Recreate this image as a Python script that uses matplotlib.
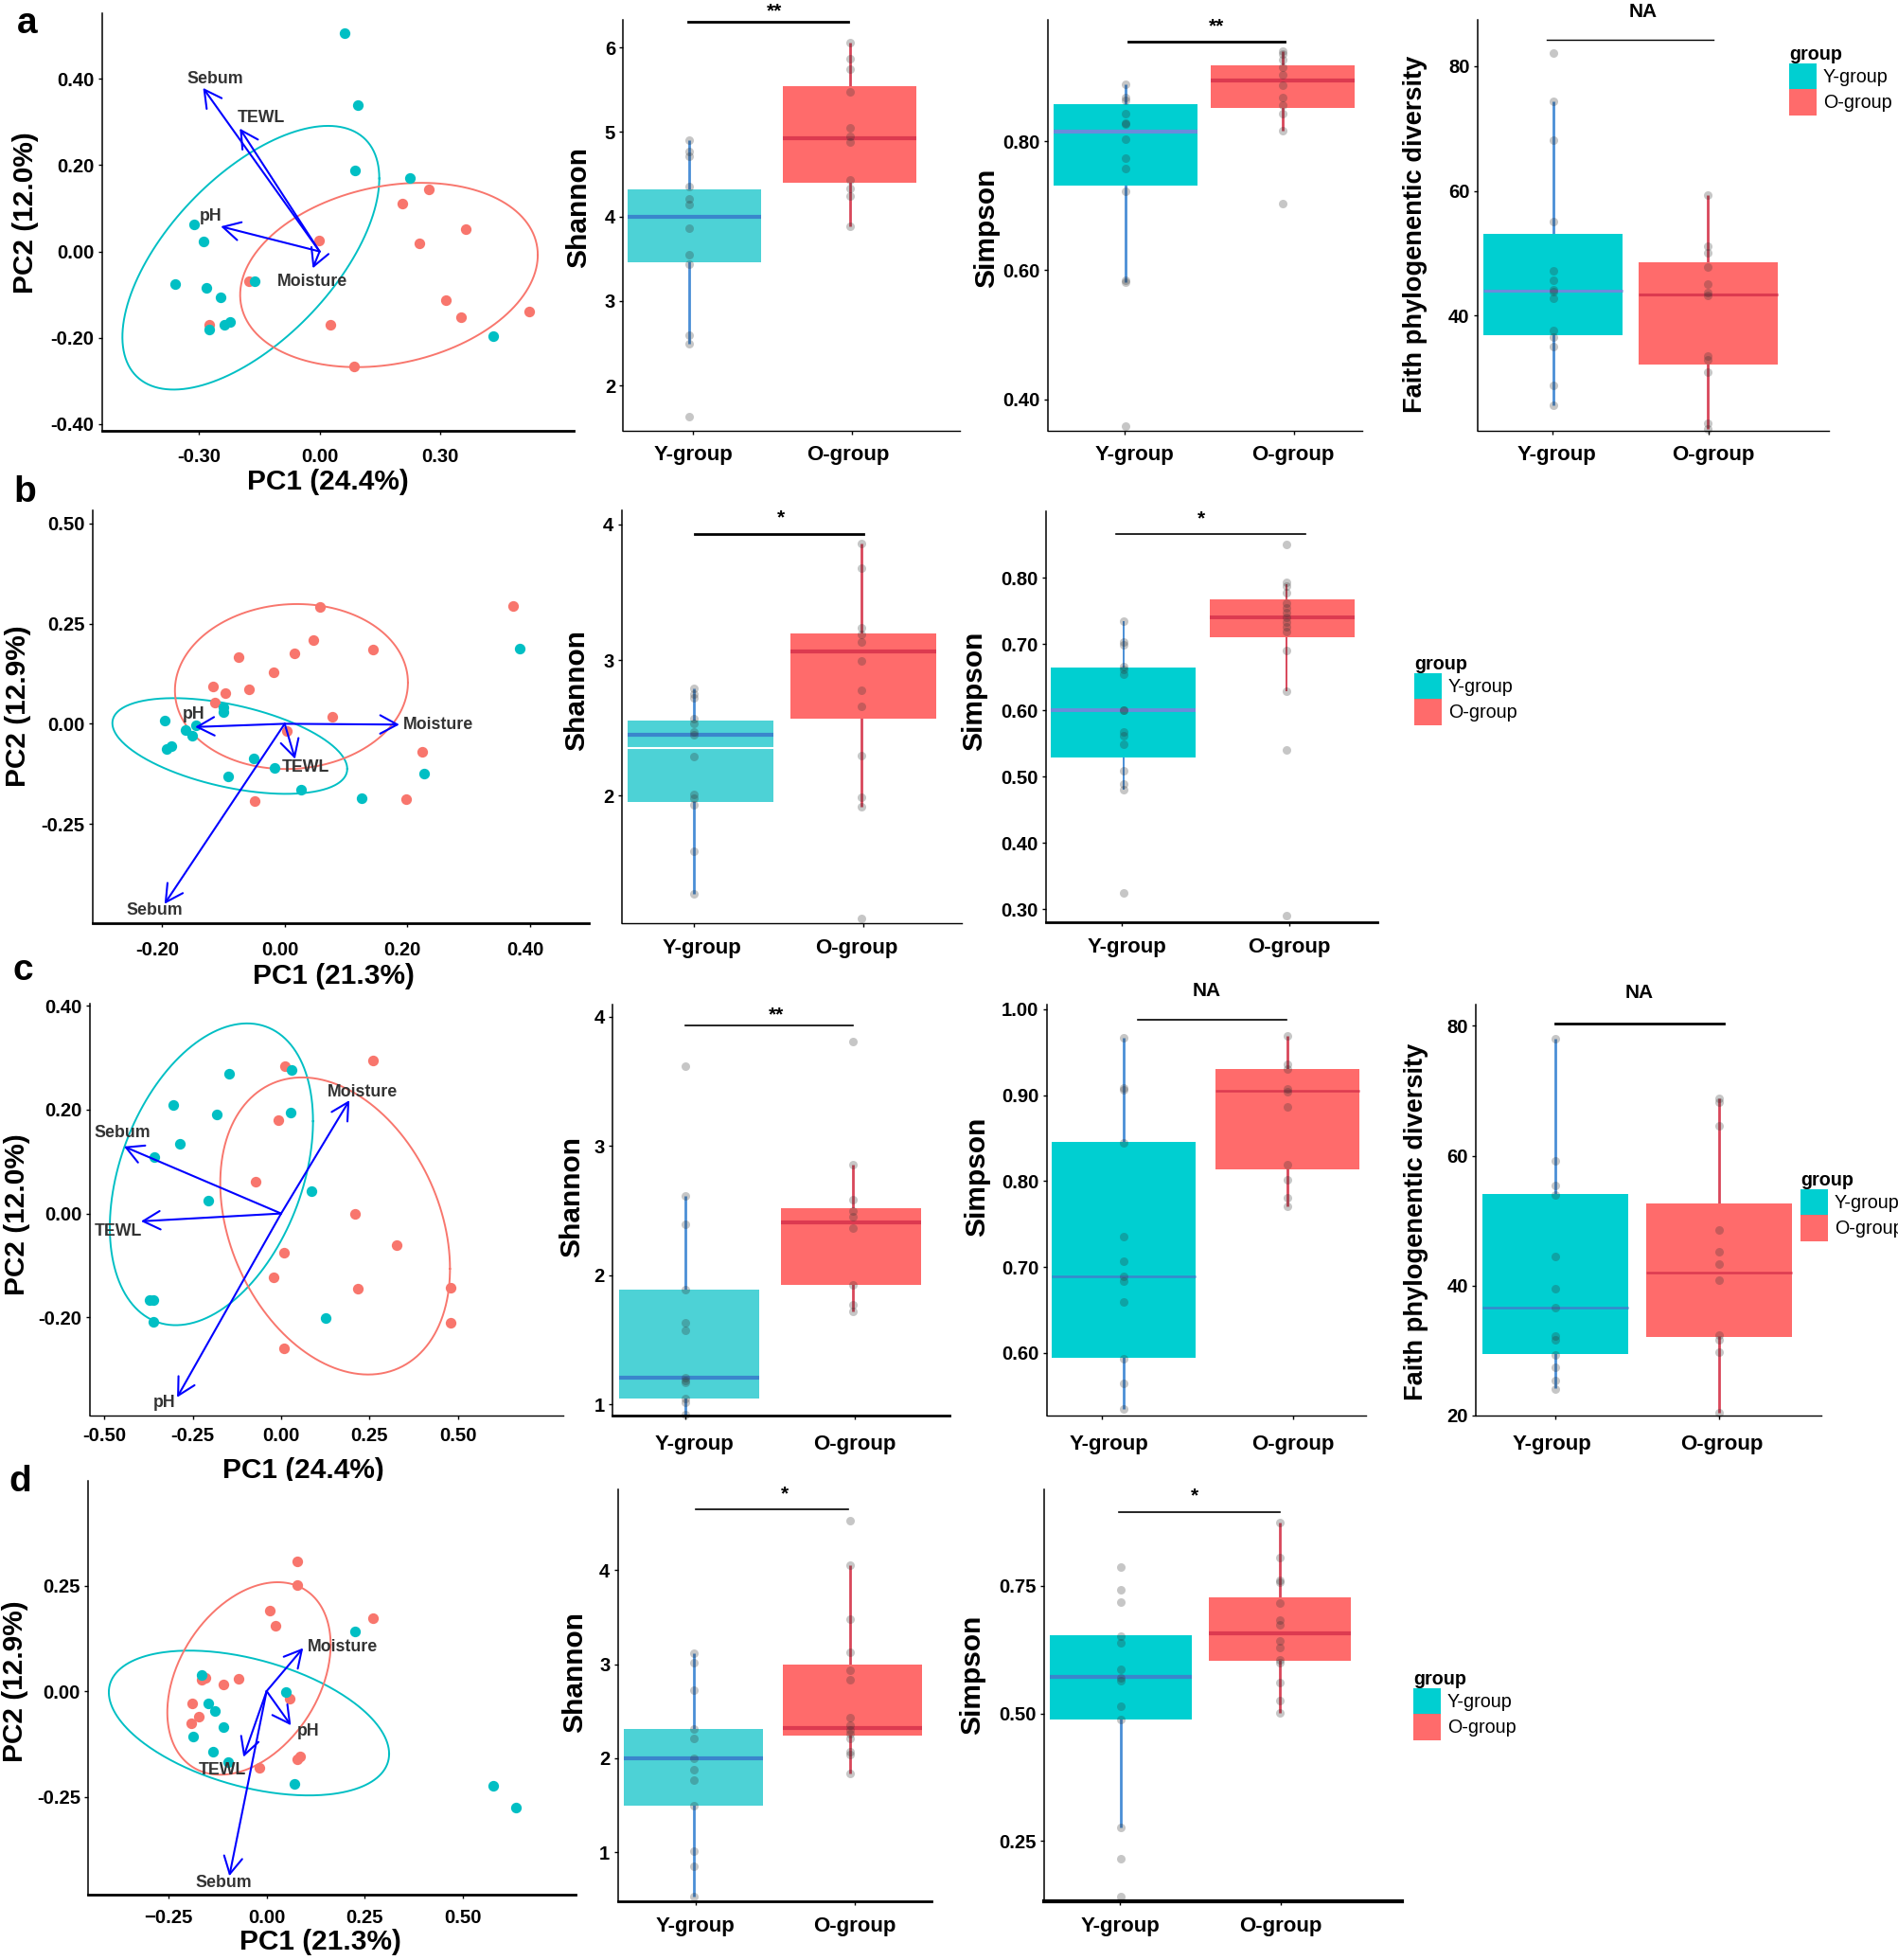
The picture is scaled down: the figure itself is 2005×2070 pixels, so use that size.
import matplotlib
matplotlib.use("Agg")
import numpy as np
import matplotlib.pyplot as plt
from matplotlib.patches import Patch
from matplotlib.transforms import ScaledTranslation

plt.rcParams['font.family'] = ['Liberation Sans', 'DejaVu Sans']

W, H = 2006, 2070
GROUPS = ['Y-group', 'O-group']

# ---------- PCA data ----------
A_Y_X = [.062,.095,.088,.224,-.312,-.288,-.358,-.280,-.245,-.161,-.273,-.236,-.221,.430]
A_Y_Y = [.507,.340,.187,.170,.063,.024,-.076,-.085,-.107,-.070,-.181,-.170,-.163,-.197]
A_O_X = [.270,.206,.362,-.002,.248,-.174,.312,.520,.350,-.273,.026,.085]
A_O_Y = [.143,.110,.051,.026,.018,-.068,-.113,-.139,-.153,-.169,-.170,-.267]
B_Y_X = [.383,-.100,-.100,-.196,-.144,-.161,-.151,-.185,-.193,-.050,-.017,-.092,.027,.125,.228]
B_Y_Y = [.187,.040,.030,.008,-.004,-.016,-.029,-.056,-.062,-.086,-.111,-.131,-.165,-.185,-.124]
B_O_X = [.057,.372,.047,.144,.016,-.076,-.018,-.117,-.097,-.058,-.114,.078,.003,.225,-.049,.198]
B_O_Y = [.291,.293,.209,.185,.176,.167,.129,.094,.077,.086,.054,.018,-.019,-.069,-.194,-.188]
C_Y_X = [.029,-.148,-.306,-.181,.028,-.286,-.358,.086,-.207,-.372,-.361,-.361,.127]
C_Y_Y = [.276,.269,.209,.191,.194,.135,.109,.043,.024,-.167,-.166,-.209,-.201]
C_O_X = [.260,.010,-.009,-.071,.208,.325,.007,-.022,.217,.480,.480,.007]
C_O_Y = [.295,.283,.180,.062,-.001,-.060,-.075,-.122,-.144,-.142,-.210,-.259]
D_Y_X = [.225,-.166,.050,-.149,-.132,-.109,-.188,-.137,-.099,.070,.576,.634]
D_Y_Y = [.141,.039,-.003,-.030,-.046,-.086,-.107,-.143,-.168,-.219,-.225,-.276]
D_O_X = [.079,.078,.009,.270,.022,-.071,-.157,-.166,-.110,.059,-.189,-.174,-.191,.085,.078,-.019]
D_O_Y = [.308,.251,.190,.173,.154,.030,.031,.028,.016,-.017,-.029,-.061,-.077,-.155,-.161,-.182]

# ellipses: xmin, xmax, ymin, ymax, x at ymax
A_ELL = [(-.489,.148,-.320,.291,.021), (-.197,.541,-.268,.159,.252)]
B_ELL = [(-.281,.102,-.175,.064,-.181), (-.179,.201,-.113,.299,.020)]
C_ELL = [(-.484,.090,-.215,.366,-.096), (-.172,.477,-.310,.262,.059)]
D_ELL = [(-.402,.312,-.247,.096,-.197), (-.253,.163,-.198,.258,.028)]

# loadings: name, end x, end y, label x, label y
A_LOAD = [('Sebum',-.289,.379,-.258,.399),('TEWL',-.198,.285,-.145,.309),('pH',-.245,.058,-.271,.081),('Moisture',-.017,-.039,-.017,-.069)]
B_LOAD = [('Sebum',-.196,-.450,-.213,-.466),('TEWL',.017,-.088,.034,-.110),('pH',-.146,-.008,-.148,.024),('Moisture',.187,-.002,.250,-.003)]
C_LOAD = [('Sebum',-.444,.129,-.449,.155),('TEWL',-.396,-.015,-.461,-.035),('pH',-.294,-.354,-.329,-.364),('Moisture',.193,.218,.231,.234)]
D_LOAD = [('Sebum',-.095,-.438,-.109,-.454),('TEWL',-.059,-.156,-.112,-.187),('pH',.062,-.081,.106,-.096),('Moisture',.093,.102,.193,.104)]

# ---------- alpha diversity data ----------
# stats: q1, median, q3, whisker low, whisker high
A_SHA_Y = [4.906,4.763,4.717,4.358,4.206,4.138,3.858,3.544,3.430,2.598,2.492,1.629]
A_SHA_O = [6.057,5.868,5.739,5.478,5.046,4.952,4.884,4.433,4.327,4.244,3.885]
A_SHA_STATS = [(3.457,3.998,4.32,2.49,4.906),(4.399,4.925,5.538,3.885,6.057)]
A_SIM_Y = [.888,.868,.863,.842,.828,.826,.803,.774,.758,.722,.584,.581,.359]
A_SIM_O = [.940,.935,.927,.914,.903,.886,.868,.856,.843,.817,.703]
A_SIM_STATS = [(.731,.815,.858,.582,.888),(.852,.894,.918,.817,.940)]
A_FAI_Y = [82.1,74.3,68.2,55.1,47.2,45.7,44.2,43.8,42.8,37.6,36.5,35.1,28.8,25.6]
A_FAI_O = [59.3,51.1,50,47.8,45,43.7,43.2,33.6,32.9,30.9,22.8,21.9]
A_FAI_STATS = [(36.8,44.0,53.1,25.6,74.3),(32.2,43.4,48.5,21.9,59.3)]

B_SHA_Y = [2.794,2.747,2.719,2.570,2.530,2.468,2.447,2.284,2.009,1.979,1.931,1.589,1.277]
B_SHA_O = [3.863,3.676,3.239,3.191,3.130,2.993,2.778,2.660,2.291,1.986,1.915,1.095]
B_SHA_STATS = [(1.955,2.447,2.551,1.277,2.794),(2.565,3.061,3.196,1.915,3.863)]
B_SIM_Y = [.735,.703,.699,.666,.662,.655,.601,.600,.568,.562,.549,.509,.489,.481,.324]
B_SIM_O = [.851,.793,.788,.778,.762,.755,.748,.741,.733,.726,.719,.690,.629,.541,.290]
B_SIM_STATS = [(.529,.600,.665,.481,.735),(.711,.740,.768,.629,.791)]

C_SHA_Y = [3.621,2.612,2.394,1.888,1.632,1.575,1.203,1.186,1.166,1.045,1.012,.918]
C_SHA_O = [3.809,2.852,2.587,2.493,2.451,2.364,1.925,1.774,1.719]
C_SHA_STATS = [(1.045,1.203,1.888,.913,2.612),(1.925,2.408,2.520,1.719,2.852)]
C_SIM_Y = [.967,.909,.906,.844,.735,.707,.689,.684,.659,.593,.565,.535]
C_SIM_O = [.969,.936,.930,.907,.904,.886,.819,.801,.781,.771]
C_SIM_STATS = [(.594,.689,.846,.535,.967),(.814,.905,.930,.771,.969)]
C_FAI_Y = [78.0,59.2,55.4,54.0,44.5,39.5,36.6,32.3,31.7,29.4,27.5,25.4,24.1]
C_FAI_O = [68.9,68.3,64.6,48.6,45.2,43.3,40.8,32.4,31.7,29.7,20.5]
C_FAI_STATS = [(29.5,36.6,54.1,24.2,78.0),(32.1,42.0,52.6,20.5,68.9)]

D_SHA_Y = [3.115,3.019,2.724,2.316,2.214,2.0,1.881,1.766,1.497,1.015,.855,.532]
D_SHA_O = [4.521,4.056,3.478,3.128,2.938,2.833,2.435,2.350,2.299,2.265,2.214,2.068,2.044,1.840]
D_SHA_STATS = [(1.500,2.0,2.313,.532,3.115),(2.245,2.323,2.992,1.840,4.056)]
D_SIM_Y = [.787,.742,.719,.652,.638,.587,.570,.565,.514,.488,.276,.215,.141]
D_SIM_O = [.874,.806,.761,.757,.716,.683,.674,.642,.629,.605,.599,.560,.526,.501]
D_SIM_STATS = [(.488,.572,.654,.276,.654),(.604,.657,.728,.501,.874)]

# ---------- style ----------
TEAL, RED = '#00BFC4', '#F8766D'
BOX_TEAL, BOX_TEAL_L, BOX_RED = '#00CFD1', '#4DD2D6', '#FF6B6B'
WH_B, WH_R = '#4A8ED6', '#D8465A'
MED_B, MED_B2, MED_R = '#3A86CC', '#6A8CDB', '#DC3A50'
PTS = '#333333'
FS_TICK, FS_CAT, FS_LAB = 14.6, 16, 21.5

fig = plt.figure(figsize=(W/100, H/100), dpi=100, facecolor='white')


def make_ax(l, r, t, b, bottom_lw=1.0):
    ax = fig.add_axes([l/W, 1-b/H, (r-l)/W, (b-t)/H])
    for s in ['top', 'right']:
        ax.spines[s].set_visible(False)
    ax.spines['left'].set_linewidth(1.1)
    ax.spines['bottom'].set_linewidth(bottom_lw)
    ax.spines['left'].set_zorder(6)
    ax.spines['bottom'].set_zorder(6)
    return ax


def place_labels(ax, box, ylabel, ypos, xlabel=None, xpos=None, ylab_fs=FS_LAB):
    l, r, t, b = box
    ax.set_ylabel(ylabel, fontsize=ylab_fs, fontweight='bold')
    ax.yaxis.set_label_coords((ypos[0]-l)/(r-l), (b-ypos[1])/(b-t))
    if xlabel:
        ax.set_xlabel(xlabel, fontsize=FS_LAB, fontweight='bold')
        ax.xaxis.set_label_coords((xpos[0]-l)/(r-l), (b-xpos[1])/(b-t))
        ax.xaxis.label.set_va('center')
    ax.yaxis.label.set_va('center')


def ellipse(ax, e, color):
    xmin, xmax, ymin, ymax, xat = e
    cx, cy = (xmin+xmax)/2, (ymin+ymax)/2
    rx, ry = (xmax-xmin)/2, (ymax-ymin)/2
    d = np.arccos(np.clip((xat-cx)/rx, -1, 1))
    t = np.linspace(0, 2*np.pi, 300)
    ax.plot(cx+rx*np.cos(t), cy+ry*np.cos(t-d), color=color, lw=1.4, zorder=2)


def shift_labels(fig_labels, dx):
    for tl in fig_labels:
        tl.set_transform(tl.get_transform()+ScaledTranslation(dx/100, 0, fig.dpi_scale_trans))


def pca(box, xlim, ylim, xticks, xtl, yticks, ytl, yx, yy, ox, oy, ells, loads,
        xlabel, xpos, ylabel, ypos, xpad, bottom_lw=1.0, labdx=0):
    ax = make_ax(*box, bottom_lw=bottom_lw)
    ax.set_xlim(*xlim); ax.set_ylim(*ylim)
    ax.scatter(ox, oy, s=66, color=RED, lw=0, zorder=3)
    ax.scatter(yx, yy, s=66, color=TEAL, lw=0, zorder=3)
    ellipse(ax, ells[0], TEAL); ellipse(ax, ells[1], RED)
    for name, ex, ey, lx, ly in loads:
        ax.annotate('', xy=(ex, ey), xytext=(0, 0), zorder=4,
                    arrowprops=dict(arrowstyle='->,head_length=13,head_width=7', mutation_scale=1,
                                    color='#0000FF', lw=1.5, shrinkA=0, shrinkB=0))
        ax.text(lx, ly, name, fontsize=12.8, fontweight='bold', color='#333333',
                ha='center', va='center', zorder=5)
    ax.set_xticks(xticks); ax.set_xticklabels(xtl)
    ax.set_yticks(yticks); ax.set_yticklabels(ytl)
    ax.tick_params(axis='x', length=3, width=1, labelsize=FS_TICK, pad=xpad*.72)
    ax.tick_params(axis='y', length=3, width=1, labelsize=FS_TICK, pad=3)
    for t in ax.get_xticklabels()+ax.get_yticklabels():
        t.set_fontweight('bold')
    shift_labels(ax.get_xticklabels(), labdx)
    place_labels(ax, box, ylabel, ypos, xlabel, xpos)
    return ax


def boxpanel(box, ylim, yticks, ytl, stats, ydata, odata, cx, hw, ptx, tickx, ylabel, ypos,
             bar, sig, sigpos, xpad, teal=BOX_TEAL, med=MED_B, medlw=3.0, whlw=2.0,
             bottom_lw=1.0, labdx=(0, 0), white=None, ylab_fs=FS_LAB):
    ax = make_ax(*box, bottom_lw=bottom_lw)
    l, r, t, b = box
    u = cx[1]-cx[0]
    tox = lambda p: 1+(p-cx[0])/u
    ax.set_xlim(tox(l), tox(r)); ax.set_ylim(*ylim)
    colors = [teal, BOX_RED]
    wh = [WH_B, WH_R]
    meds = [med, MED_R]
    for i, (st, vals) in enumerate(zip(stats, [ydata, odata])):
        q1, m, q3, lo, hi = st
        x0 = tox(cx[i])
        px = tox(ptx[i])
        ax.vlines(px, lo, hi, color=wh[i], lw=whlw, zorder=1)
        ax.bar(x0, q3-q1, bottom=q1, width=2*hw/u, color=colors[i], lw=0, zorder=2)
        ax.hlines(m, x0-hw/u, x0+hw/u, color=meds[i], lw=medlw, zorder=3)
        ax.scatter([px]*len(vals), vals, s=42, color=PTS, alpha=.28, lw=0, zorder=4, clip_on=False)
    if white is not None:
        ax.hlines(white, tox(cx[0])-hw/u, tox(cx[0])+hw/u, color='white', lw=1.5, zorder=3)
    ax.set_xticks([tox(tickx[0]), tox(tickx[1])]); ax.set_xticklabels(GROUPS)
    ax.set_yticks(yticks); ax.set_yticklabels(ytl)
    ax.tick_params(axis='x', length=3, width=1, labelsize=FS_CAT, pad=xpad*.72)
    ax.tick_params(axis='y', length=3, width=1, labelsize=FS_TICK, pad=3)
    for tl, dx in zip(ax.get_xticklabels(), labdx):
        tl.set_fontweight('bold')
        tl.set_transform(tl.get_transform()+ScaledTranslation(dx/100, 0, fig.dpi_scale_trans))
    for tl in ax.get_yticklabels():
        tl.set_fontweight('bold')
    place_labels(ax, box, ylabel, ypos, ylab_fs=ylab_fs)
    fig.add_artist(plt.Line2D([bar[0]/W, bar[1]/W], [1-bar[2]/H]*2, color='black', lw=bar[3]))
    sy = sigpos[1] + (5 if sig.startswith('*') else 0)
    fig.text(sigpos[0]/W, 1-sy/H, sig, fontsize=15, fontweight='bold', ha='center', va='center')
    return ax


def legend(x, y):
    handles = [Patch(facecolor=BOX_TEAL, lw=0, label=GROUPS[0]), Patch(facecolor=BOX_RED, lw=0, label=GROUPS[1])]
    leg = fig.legend(handles=handles, title='group', loc='upper left', bbox_to_anchor=(x/W, 1-y/H),
                     frameon=False, fontsize=14.2, handlelength=1.48, handleheight=1.76, labelspacing=0,
                     handletextpad=.35, borderaxespad=0, borderpad=0, alignment='left')
    leg.get_title().set_fontweight('bold')
    leg.get_title().set_fontsize(14.2)


FS_FAITH = 19.6

# ---------- row a ----------
pca((108,606,14,455), (-.539,.630), (-.4156,.552), [-.3,0,.3], ['-0.30','0.00','0.30'],
    [.4,.2,0,-.2,-.4], ['0.40','0.20','0.00','-0.20','-0.40'],
    A_Y_X, A_Y_Y, A_O_X, A_O_Y, A_ELL, A_LOAD, 'PC1 (24.4%)', (346,509), 'PC2 (12.0%)', (27,225), 14, 2.0)
boxpanel((658.5,1014,21,455), (1.463,6.325), [2,3,4,5,6], ['2','3','4','5','6'], A_SHA_STATS, A_SHA_Y, A_SHA_O,
         (733.2,897.6), 70.6, (728,897.6), (732,900), 'Shannon', (611,219), (727,895.6,23,2.0), '**', (818,7), 10.5,
         teal=BOX_TEAL_L, medlw=3.0, labdx=(0,-4))
boxpanel((1106.5,1439.5,21,455), (.351,.988), [.4,.6,.8], ['0.40','0.60','0.80'], A_SIM_STATS, A_SIM_Y, A_SIM_O,
         (1189,1355), 76, (1188.6,1355.4), (1188,1367), 'Simpson', (1042,241), (1192,1357,44,2.0), '**', (1285.5,23), 10.5,
         med=MED_B2, labdx=(10,-1))
boxpanel((1560.8,1931.6,21,455), (21.54,87.4), [40,60,80], ['40','60','80'], A_FAI_STATS, A_FAI_Y, A_FAI_O,
         (1640.5,1804.5), 73.5, (1641,1804), (1640,1804.6), 'Faith phylogenentic diversity', (1495,247), (1634,1810,42,1.0), 'NA', (1736,12), 10.5,
         med=MED_B2, medlw=2.2, labdx=(4,5), ylab_fs=FS_FAITH)
legend(1890, 48)

# ---------- row b ----------
pca((98,622,539,975), (-.313,.496), (-.498,.533), [-.2,0,.2,.4], ['-0.20','0.00','0.20','0.40'],
    [.5,.25,0,-.25], ['0.50','0.25','0.00','-0.25'],
    B_Y_X, B_Y_Y, B_O_X, B_O_Y, B_ELL, B_LOAD, 'PC1 (21.3%)', (352,1031), 'PC2 (12.9%)', (19,746), 15, 2.0, labdx=-5)
boxpanel((656.6,1016,539.4,975), (1.057,4.102), [2,3,4], ['2','3','4'], B_SHA_STATS, B_SHA_Y, B_SHA_O,
         (740,912.5), 77, (733,910), (733,912), 'Shannon', (609,729), (734.5,912,563.8,2.0), '*', (825,542), 11.5,
         teal=BOX_TEAL_L, white=2.348, labdx=(8,-7))
boxpanel((1104.6,1455.5,540.4,974.2), (.280,.900), [.3,.4,.5,.6,.7,.8], ['0.30','0.40','0.50','0.60','0.70','0.80'],
         B_SIM_STATS, B_SIM_Y, B_SIM_O,
         (1187,1355), 76.5, (1186.7,1359), (1185.4,1362.5), 'Simpson', (1029,730), (1179,1378.5,564.4,1.2), '*', (1269,543), 11.5,
         med=MED_B2, medlw=2.8, whlw=1.4, bottom_lw=2.0, labdx=(5,-1))
legend(1494, 692)

# ---------- row c ----------
pca((94.7,595,1060,1495), (-.541,.797), (-.389,.404), [-.5,-.25,0,.25,.5], ['-0.50','-0.25','0.00','0.25','0.50'],
    [.4,.2,0,-.2], ['0.40','0.20','0.00','-0.20'],
    C_Y_X, C_Y_Y, C_O_X, C_O_Y, C_ELL, C_LOAD, 'PC1 (24.4%)', (320,1553), 'PC2 (12.0%)', (18,1283), 8)
boxpanel((647,1002.6,1061,1495), (.913,4.094), [1,2,3,4], ['1','2','3','4'], C_SHA_STATS, C_SHA_Y, C_SHA_O,
         (728,899), 74, (723.6,900.8), (723.6,902.7), 'Shannon', (604,1264), (724,901,1083,1.2), '**', (820,1067), 15.5,
         teal=BOX_TEAL_L, bottom_lw=2.0, labdx=(10,0))
boxpanel((1105.9,1442.7,1061,1495), (.527,1.0055), [.6,.7,.8,.9,1.0], ['0.60','0.70','0.80','0.90','1.00'],
         C_SIM_STATS, C_SIM_Y, C_SIM_O,
         (1187,1360), 76, (1186.7,1360), (1163.6,1365.7), 'Simpson', (1032,1243), (1202,1359,1076.5,1.2), 'NA', (1274.6,1046.4), 15.5,
         medlw=1.8, labdx=(8,0))
boxpanel((1559.5,1924,1061,1495), (20,83.26), [20,40,60,80], ['20','40','60','80'], C_FAI_STATS, C_FAI_Y, C_FAI_O,
         (1643,1816), 77, (1643,1816), (1643,1816), 'Faith phylogenentic diversity', (1496,1290), (1643,1821,1081,2.0), 'NA', (1732,1048), 15.5,
         medlw=1.8, labdx=(-4,3), ylab_fs=FS_FAITH)
legend(1902, 1237)

# ---------- row d ----------
pca((93.4,607.6,1564,2000.5), (-.454,.786), (-.481,.498), [-.25,0,.25,.5], ['\u22120.25','0.00','0.25','0.50'],
    [.25,0,-.25], ['0.25','0.00','-0.25'],
    D_Y_X, D_Y_Y, D_O_X, D_O_Y, D_ELL, D_LOAD, 'PC1 (21.3%)', (338,2051), 'PC2 (12.9%)', (16,1776), 11, 2.0)
boxpanel((652.7,984,1572.8,2008), (.481,4.858), [1,2,3,4], ['1','2','3','4'], D_SHA_STATS, D_SHA_Y, D_SHA_O,
         (732.5,900.6), 73.5, (732.6,898), (734.5,902.7), 'Shannon', (607,1766), (735,896,1594.4,1.2), '*', (828.6,1573), 11.5,
         teal=BOX_TEAL_L, bottom_lw=2.0)
boxpanel((1103.3,1481,1573,2008), (.132,.939), [.25,.5,.75], ['0.25','0.50','0.75'], D_SIM_STATS, D_SIM_Y, D_SIM_O,
         (1184.5,1352), 75, (1184,1352), (1183,1353), 'Simpson', (1027,1769), (1181.6,1352,1596.5,1.2), '*', (1262,1575), 11.5,
         bottom_lw=3.0)
legend(1493, 1764)

# ---------- panel letters ----------
for s, x, y in [('a',29,25), ('b',26,520), ('c',24,1025), ('d',21,1565)]:
    fig.text(x/W, 1-y/H, s, fontsize=28, fontweight='bold', ha='center', va='center')

fig.savefig('out.png', dpi=100, facecolor='white')
